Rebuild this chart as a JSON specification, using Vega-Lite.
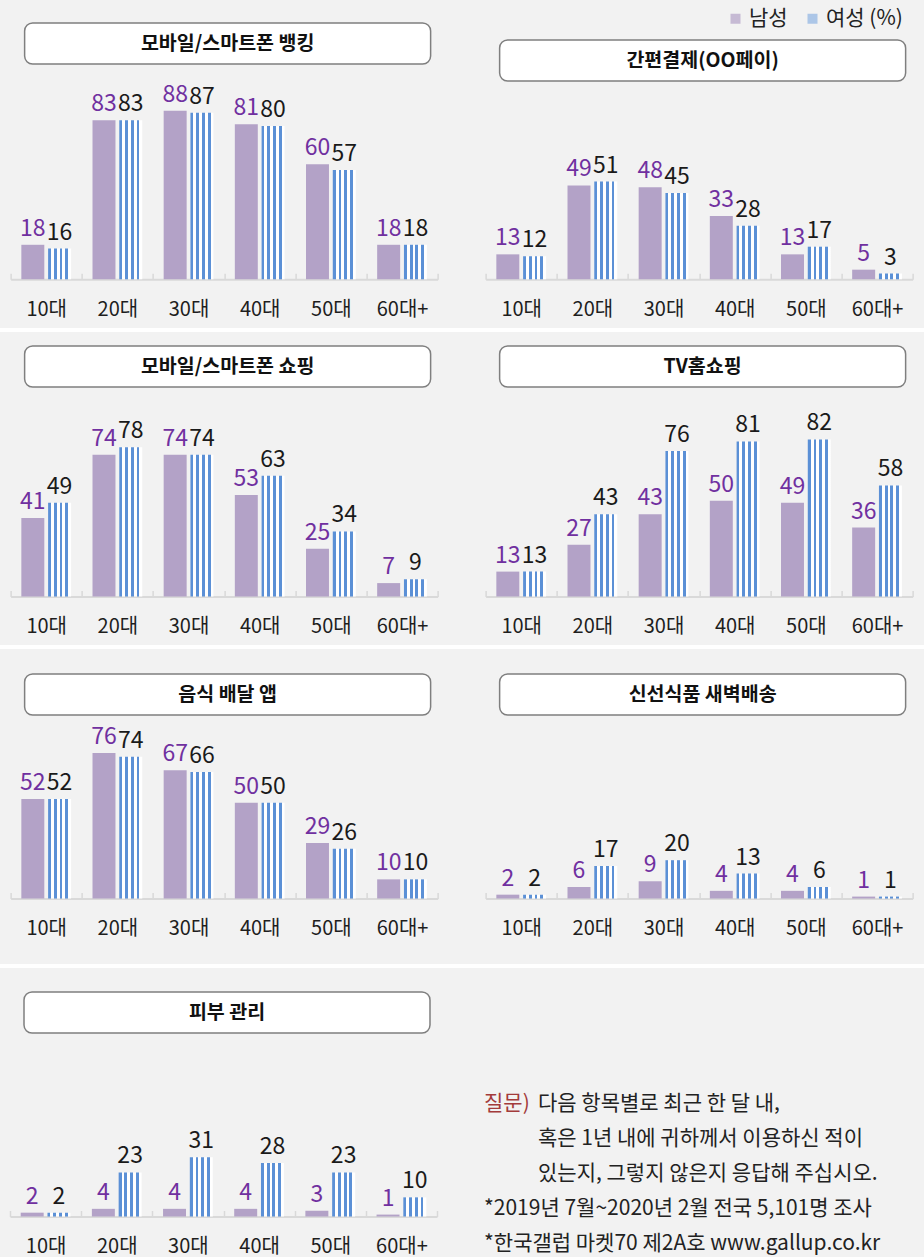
{
  "$schema": "https://vega.github.io/schema/vega-lite/v6.json",
  "background": "#f2f2f2",
  "padding": 0,
  "autosize": {"type": "pad"},
  "spacing": 0,
  "center": true,
  "resolve": {"scale": {"xOffset": "independent"}},
  "config": {
    "view": {"stroke": null},
    "font": "Noto Sans CJK KR",
    "axisX": {"domainColor": "#d9d9d9", "domainWidth": 2, "tickColor": "#d9d9d9", "tickWidth": 1.5, "tickSize": -6, "tickBand": "extent", "labelPadding": 26, "labelFontSize": 20, "labelColor": "#1e1e1e", "labelAngle": 0, "labelFont": "Noto Sans CJK KR", "grid": false}
  },
  "datasets": {
    "survey": [
      {"panel": "모바일/스마트폰 뱅킹", "age": "10대", "sex": "남성", "value": 18},
      {"panel": "모바일/스마트폰 뱅킹", "age": "10대", "sex": "여성", "value": 16},
      {"panel": "모바일/스마트폰 뱅킹", "age": "20대", "sex": "남성", "value": 83},
      {"panel": "모바일/스마트폰 뱅킹", "age": "20대", "sex": "여성", "value": 83},
      {"panel": "모바일/스마트폰 뱅킹", "age": "30대", "sex": "남성", "value": 88},
      {"panel": "모바일/스마트폰 뱅킹", "age": "30대", "sex": "여성", "value": 87},
      {"panel": "모바일/스마트폰 뱅킹", "age": "40대", "sex": "남성", "value": 81},
      {"panel": "모바일/스마트폰 뱅킹", "age": "40대", "sex": "여성", "value": 80},
      {"panel": "모바일/스마트폰 뱅킹", "age": "50대", "sex": "남성", "value": 60},
      {"panel": "모바일/스마트폰 뱅킹", "age": "50대", "sex": "여성", "value": 57},
      {"panel": "모바일/스마트폰 뱅킹", "age": "60대+", "sex": "남성", "value": 18},
      {"panel": "모바일/스마트폰 뱅킹", "age": "60대+", "sex": "여성", "value": 18},
      {"panel": "간편결제(OO페이)", "age": "10대", "sex": "남성", "value": 13},
      {"panel": "간편결제(OO페이)", "age": "10대", "sex": "여성", "value": 12},
      {"panel": "간편결제(OO페이)", "age": "20대", "sex": "남성", "value": 49},
      {"panel": "간편결제(OO페이)", "age": "20대", "sex": "여성", "value": 51},
      {"panel": "간편결제(OO페이)", "age": "30대", "sex": "남성", "value": 48},
      {"panel": "간편결제(OO페이)", "age": "30대", "sex": "여성", "value": 45},
      {"panel": "간편결제(OO페이)", "age": "40대", "sex": "남성", "value": 33},
      {"panel": "간편결제(OO페이)", "age": "40대", "sex": "여성", "value": 28},
      {"panel": "간편결제(OO페이)", "age": "50대", "sex": "남성", "value": 13},
      {"panel": "간편결제(OO페이)", "age": "50대", "sex": "여성", "value": 17},
      {"panel": "간편결제(OO페이)", "age": "60대+", "sex": "남성", "value": 5},
      {"panel": "간편결제(OO페이)", "age": "60대+", "sex": "여성", "value": 3},
      {"panel": "모바일/스마트폰 쇼핑", "age": "10대", "sex": "남성", "value": 41},
      {"panel": "모바일/스마트폰 쇼핑", "age": "10대", "sex": "여성", "value": 49},
      {"panel": "모바일/스마트폰 쇼핑", "age": "20대", "sex": "남성", "value": 74},
      {"panel": "모바일/스마트폰 쇼핑", "age": "20대", "sex": "여성", "value": 78},
      {"panel": "모바일/스마트폰 쇼핑", "age": "30대", "sex": "남성", "value": 74},
      {"panel": "모바일/스마트폰 쇼핑", "age": "30대", "sex": "여성", "value": 74},
      {"panel": "모바일/스마트폰 쇼핑", "age": "40대", "sex": "남성", "value": 53},
      {"panel": "모바일/스마트폰 쇼핑", "age": "40대", "sex": "여성", "value": 63},
      {"panel": "모바일/스마트폰 쇼핑", "age": "50대", "sex": "남성", "value": 25},
      {"panel": "모바일/스마트폰 쇼핑", "age": "50대", "sex": "여성", "value": 34},
      {"panel": "모바일/스마트폰 쇼핑", "age": "60대+", "sex": "남성", "value": 7},
      {"panel": "모바일/스마트폰 쇼핑", "age": "60대+", "sex": "여성", "value": 9},
      {"panel": "TV홈쇼핑", "age": "10대", "sex": "남성", "value": 13},
      {"panel": "TV홈쇼핑", "age": "10대", "sex": "여성", "value": 13},
      {"panel": "TV홈쇼핑", "age": "20대", "sex": "남성", "value": 27},
      {"panel": "TV홈쇼핑", "age": "20대", "sex": "여성", "value": 43},
      {"panel": "TV홈쇼핑", "age": "30대", "sex": "남성", "value": 43},
      {"panel": "TV홈쇼핑", "age": "30대", "sex": "여성", "value": 76},
      {"panel": "TV홈쇼핑", "age": "40대", "sex": "남성", "value": 50},
      {"panel": "TV홈쇼핑", "age": "40대", "sex": "여성", "value": 81},
      {"panel": "TV홈쇼핑", "age": "50대", "sex": "남성", "value": 49},
      {"panel": "TV홈쇼핑", "age": "50대", "sex": "여성", "value": 82},
      {"panel": "TV홈쇼핑", "age": "60대+", "sex": "남성", "value": 36},
      {"panel": "TV홈쇼핑", "age": "60대+", "sex": "여성", "value": 58},
      {"panel": "음식 배달 앱", "age": "10대", "sex": "남성", "value": 52},
      {"panel": "음식 배달 앱", "age": "10대", "sex": "여성", "value": 52},
      {"panel": "음식 배달 앱", "age": "20대", "sex": "남성", "value": 76},
      {"panel": "음식 배달 앱", "age": "20대", "sex": "여성", "value": 74},
      {"panel": "음식 배달 앱", "age": "30대", "sex": "남성", "value": 67},
      {"panel": "음식 배달 앱", "age": "30대", "sex": "여성", "value": 66},
      {"panel": "음식 배달 앱", "age": "40대", "sex": "남성", "value": 50},
      {"panel": "음식 배달 앱", "age": "40대", "sex": "여성", "value": 50},
      {"panel": "음식 배달 앱", "age": "50대", "sex": "남성", "value": 29},
      {"panel": "음식 배달 앱", "age": "50대", "sex": "여성", "value": 26},
      {"panel": "음식 배달 앱", "age": "60대+", "sex": "남성", "value": 10},
      {"panel": "음식 배달 앱", "age": "60대+", "sex": "여성", "value": 10},
      {"panel": "신선식품 새벽배송", "age": "10대", "sex": "남성", "value": 2},
      {"panel": "신선식품 새벽배송", "age": "10대", "sex": "여성", "value": 2},
      {"panel": "신선식품 새벽배송", "age": "20대", "sex": "남성", "value": 6},
      {"panel": "신선식품 새벽배송", "age": "20대", "sex": "여성", "value": 17},
      {"panel": "신선식품 새벽배송", "age": "30대", "sex": "남성", "value": 9},
      {"panel": "신선식품 새벽배송", "age": "30대", "sex": "여성", "value": 20},
      {"panel": "신선식품 새벽배송", "age": "40대", "sex": "남성", "value": 4},
      {"panel": "신선식품 새벽배송", "age": "40대", "sex": "여성", "value": 13},
      {"panel": "신선식품 새벽배송", "age": "50대", "sex": "남성", "value": 4},
      {"panel": "신선식품 새벽배송", "age": "50대", "sex": "여성", "value": 6},
      {"panel": "신선식품 새벽배송", "age": "60대+", "sex": "남성", "value": 1},
      {"panel": "신선식품 새벽배송", "age": "60대+", "sex": "여성", "value": 1},
      {"panel": "피부 관리", "age": "10대", "sex": "남성", "value": 2},
      {"panel": "피부 관리", "age": "10대", "sex": "여성", "value": 2},
      {"panel": "피부 관리", "age": "20대", "sex": "남성", "value": 4},
      {"panel": "피부 관리", "age": "20대", "sex": "여성", "value": 23},
      {"panel": "피부 관리", "age": "30대", "sex": "남성", "value": 4},
      {"panel": "피부 관리", "age": "30대", "sex": "여성", "value": 31},
      {"panel": "피부 관리", "age": "40대", "sex": "남성", "value": 4},
      {"panel": "피부 관리", "age": "40대", "sex": "여성", "value": 28},
      {"panel": "피부 관리", "age": "50대", "sex": "남성", "value": 3},
      {"panel": "피부 관리", "age": "50대", "sex": "여성", "value": 23},
      {"panel": "피부 관리", "age": "60대+", "sex": "남성", "value": 1},
      {"panel": "피부 관리", "age": "60대+", "sex": "여성", "value": 10}
    ]
  },
  "vconcat": [
    {
      "hconcat": [
        {
          "vconcat": [
            {"width": 427, "height": 21.25, "data": {"values": []}, "mark": "text"},
            {"hconcat": [
              {"width": 13, "height": 41, "data": {"values": []}, "mark": "text"},
              {"width": 406, "height": 41, "view": {"fill": "#ffffff", "stroke": "#7f7f7f", "strokeWidth": 1.5, "cornerRadius": 8}, "data": {"values": [{"title": "모바일/스마트폰 뱅킹"}]}, "mark": {"type": "text", "fontSize": 19.5, "fontWeight": "bold", "color": "#111111"}, "encoding": {"text": {"field": "title"}}}
            ], "spacing": 0},
            {
              "width": 427, "height": 214.25,
              "data": {"name": "survey"},
              "transform": [{"filter": "datum.panel === '모바일/스마트폰 뱅킹'"}],
              "encoding": {
                "x": {"field": "age", "type": "nominal", "scale": {"domain": ["10대","20대","30대","40대","50대","60대+"], "paddingInner": 0, "paddingOuter": 0}, "axis": {"title": null}},
                "xOffset": {"field": "sex", "type": "nominal", "scale": {"domain": ["남성","여성"], "paddingInner": 0.142, "paddingOuter": 0.4}},
                "y": {"field": "value", "type": "quantitative", "scale": {"domain": [0, 111.88], "nice": false, "zero": true}, "axis": null}
              },
              "layer": [
                {"mark": {"type": "bar"}, "encoding": {"fill": {"condition": {"test": "datum.sex === '남성'", "value": "#b3a2c7"}, "value": {"gradient": "linear", "x1": 0, "y1": 0, "x2": 1, "y2": 0, "stops": [{"offset": 0, "color": "#5b90d6"}, {"offset": 0.125, "color": "#5b90d6"}, {"offset": 0.125, "color": "#ffffff"}, {"offset": 0.25, "color": "#ffffff"}, {"offset": 0.25, "color": "#5b90d6"}, {"offset": 0.375, "color": "#5b90d6"}, {"offset": 0.375, "color": "#ffffff"}, {"offset": 0.5, "color": "#ffffff"}, {"offset": 0.5, "color": "#5b90d6"}, {"offset": 0.625, "color": "#5b90d6"}, {"offset": 0.625, "color": "#ffffff"}, {"offset": 0.75, "color": "#ffffff"}, {"offset": 0.75, "color": "#5b90d6"}, {"offset": 0.875, "color": "#5b90d6"}, {"offset": 0.875, "color": "#ffffff"}, {"offset": 1, "color": "#ffffff"}]}}}},
                {"mark": {"type": "text", "dy": -9, "fontSize": 23, "baseline": "alphabetic"}, "encoding": {"text": {"field": "value", "type": "quantitative"}, "color": {"condition": {"test": "datum.sex === '남성'", "value": "#7030a0"}, "value": "#1a1a1a"}}}
              ]
            }
          ],
          "spacing": 0, "resolve": {"scale": {"xOffset": "independent"}}
        },
        {
          "vconcat": [
            {"width": 427, "height": 38.25, "data": {"values": []}, "mark": "square", "encoding": {"fill": {"field": "sex", "type": "nominal", "scale": {"domain": ["남성","여성 (%)"], "range": ["#b3a2c7","#8fb4e3"]}, "legend": {"orient": "none", "legendX": 725, "legendY": 8, "direction": "horizontal", "title": null, "symbolType": "square", "symbolSize": 100, "symbolStrokeWidth": 0, "labelFontSize": 21, "labelColor": "#222222", "labelOffset": 3, "columnPadding": 14, "labelFont": "Noto Sans CJK KR"}}}},
            {"hconcat": [
              {"width": 13, "height": 41, "data": {"values": []}, "mark": "text"},
              {"width": 406, "height": 41, "view": {"fill": "#ffffff", "stroke": "#7f7f7f", "strokeWidth": 1.5, "cornerRadius": 8}, "data": {"values": [{"title": "간편결제(OO페이)"}]}, "mark": {"type": "text", "fontSize": 19.5, "fontWeight": "bold", "color": "#111111"}, "encoding": {"text": {"field": "title"}}}
            ], "spacing": 0},
            {
              "width": 427, "height": 197.25,
              "data": {"name": "survey"},
              "transform": [{"filter": "datum.panel === '간편결제(OO페이)'"}],
              "encoding": {
                "x": {"field": "age", "type": "nominal", "scale": {"domain": ["10대","20대","30대","40대","50대","60대+"], "paddingInner": 0, "paddingOuter": 0}, "axis": {"title": null}},
                "xOffset": {"field": "sex", "type": "nominal", "scale": {"domain": ["남성","여성"], "paddingInner": 0.142, "paddingOuter": 0.4}},
                "y": {"field": "value", "type": "quantitative", "scale": {"domain": [0, 103.0], "nice": false, "zero": true}, "axis": null}
              },
              "layer": [
                {"mark": {"type": "bar"}, "encoding": {"fill": {"condition": {"test": "datum.sex === '남성'", "value": "#b3a2c7"}, "value": {"gradient": "linear", "x1": 0, "y1": 0, "x2": 1, "y2": 0, "stops": [{"offset": 0, "color": "#5b90d6"}, {"offset": 0.125, "color": "#5b90d6"}, {"offset": 0.125, "color": "#ffffff"}, {"offset": 0.25, "color": "#ffffff"}, {"offset": 0.25, "color": "#5b90d6"}, {"offset": 0.375, "color": "#5b90d6"}, {"offset": 0.375, "color": "#ffffff"}, {"offset": 0.5, "color": "#ffffff"}, {"offset": 0.5, "color": "#5b90d6"}, {"offset": 0.625, "color": "#5b90d6"}, {"offset": 0.625, "color": "#ffffff"}, {"offset": 0.75, "color": "#ffffff"}, {"offset": 0.75, "color": "#5b90d6"}, {"offset": 0.875, "color": "#5b90d6"}, {"offset": 0.875, "color": "#ffffff"}, {"offset": 1, "color": "#ffffff"}]}}}},
                {"mark": {"type": "text", "dy": -9, "fontSize": 23, "baseline": "alphabetic"}, "encoding": {"text": {"field": "value", "type": "quantitative"}, "color": {"condition": {"test": "datum.sex === '남성'", "value": "#7030a0"}, "value": "#1a1a1a"}}}
              ]
            }
          ],
          "spacing": 0, "resolve": {"scale": {"xOffset": "independent"}}
        }
      ],
      "spacing": 46, "resolve": {"scale": {"xOffset": "independent"}}
    },
    {"width": 427, "height": 8, "data": {"values": []}, "mark": "text"},
    {"width": 924, "height": 4, "view": {"fill": "#ffffff", "stroke": null}, "data": {"values": []}, "mark": "text"},
    {"width": 427, "height": 13, "data": {"values": []}, "mark": "text"},
    {
      "hconcat": [
        {
          "vconcat": [
            {"hconcat": [
              {"width": 13, "height": 41, "data": {"values": []}, "mark": "text"},
              {"width": 406, "height": 41, "view": {"fill": "#ffffff", "stroke": "#7f7f7f", "strokeWidth": 1.5, "cornerRadius": 8}, "data": {"values": [{"title": "모바일/스마트폰 쇼핑"}]}, "mark": {"type": "text", "fontSize": 19.5, "fontWeight": "bold", "color": "#111111"}, "encoding": {"text": {"field": "title"}}}
            ], "spacing": 0},
            {
              "width": 427, "height": 208.5,
              "data": {"name": "survey"},
              "transform": [{"filter": "datum.panel === '모바일/스마트폰 쇼핑'"}],
              "encoding": {
                "x": {"field": "age", "type": "nominal", "scale": {"domain": ["10대","20대","30대","40대","50대","60대+"], "paddingInner": 0, "paddingOuter": 0}, "axis": {"title": null}},
                "xOffset": {"field": "sex", "type": "nominal", "scale": {"domain": ["남성","여성"], "paddingInner": 0.142, "paddingOuter": 0.4}},
                "y": {"field": "value", "type": "quantitative", "scale": {"domain": [0, 108.88], "nice": false, "zero": true}, "axis": null}
              },
              "layer": [
                {"mark": {"type": "bar"}, "encoding": {"fill": {"condition": {"test": "datum.sex === '남성'", "value": "#b3a2c7"}, "value": {"gradient": "linear", "x1": 0, "y1": 0, "x2": 1, "y2": 0, "stops": [{"offset": 0, "color": "#5b90d6"}, {"offset": 0.125, "color": "#5b90d6"}, {"offset": 0.125, "color": "#ffffff"}, {"offset": 0.25, "color": "#ffffff"}, {"offset": 0.25, "color": "#5b90d6"}, {"offset": 0.375, "color": "#5b90d6"}, {"offset": 0.375, "color": "#ffffff"}, {"offset": 0.5, "color": "#ffffff"}, {"offset": 0.5, "color": "#5b90d6"}, {"offset": 0.625, "color": "#5b90d6"}, {"offset": 0.625, "color": "#ffffff"}, {"offset": 0.75, "color": "#ffffff"}, {"offset": 0.75, "color": "#5b90d6"}, {"offset": 0.875, "color": "#5b90d6"}, {"offset": 0.875, "color": "#ffffff"}, {"offset": 1, "color": "#ffffff"}]}}}},
                {"mark": {"type": "text", "dy": -9, "fontSize": 23, "baseline": "alphabetic"}, "encoding": {"text": {"field": "value", "type": "quantitative"}, "color": {"condition": {"test": "datum.sex === '남성'", "value": "#7030a0"}, "value": "#1a1a1a"}}}
              ]
            }
          ],
          "spacing": 0, "resolve": {"scale": {"xOffset": "independent"}}
        },
        {
          "vconcat": [
            {"hconcat": [
              {"width": 13, "height": 41, "data": {"values": []}, "mark": "text"},
              {"width": 406, "height": 41, "view": {"fill": "#ffffff", "stroke": "#7f7f7f", "strokeWidth": 1.5, "cornerRadius": 8}, "data": {"values": [{"title": "TV홈쇼핑"}]}, "mark": {"type": "text", "fontSize": 19.5, "fontWeight": "bold", "color": "#111111"}, "encoding": {"text": {"field": "title"}}}
            ], "spacing": 0},
            {
              "width": 427, "height": 208.5,
              "data": {"name": "survey"},
              "transform": [{"filter": "datum.panel === 'TV홈쇼핑'"}],
              "encoding": {
                "x": {"field": "age", "type": "nominal", "scale": {"domain": ["10대","20대","30대","40대","50대","60대+"], "paddingInner": 0, "paddingOuter": 0}, "axis": {"title": null}},
                "xOffset": {"field": "sex", "type": "nominal", "scale": {"domain": ["남성","여성"], "paddingInner": 0.142, "paddingOuter": 0.4}},
                "y": {"field": "value", "type": "quantitative", "scale": {"domain": [0, 108.88], "nice": false, "zero": true}, "axis": null}
              },
              "layer": [
                {"mark": {"type": "bar"}, "encoding": {"fill": {"condition": {"test": "datum.sex === '남성'", "value": "#b3a2c7"}, "value": {"gradient": "linear", "x1": 0, "y1": 0, "x2": 1, "y2": 0, "stops": [{"offset": 0, "color": "#5b90d6"}, {"offset": 0.125, "color": "#5b90d6"}, {"offset": 0.125, "color": "#ffffff"}, {"offset": 0.25, "color": "#ffffff"}, {"offset": 0.25, "color": "#5b90d6"}, {"offset": 0.375, "color": "#5b90d6"}, {"offset": 0.375, "color": "#ffffff"}, {"offset": 0.5, "color": "#ffffff"}, {"offset": 0.5, "color": "#5b90d6"}, {"offset": 0.625, "color": "#5b90d6"}, {"offset": 0.625, "color": "#ffffff"}, {"offset": 0.75, "color": "#ffffff"}, {"offset": 0.75, "color": "#5b90d6"}, {"offset": 0.875, "color": "#5b90d6"}, {"offset": 0.875, "color": "#ffffff"}, {"offset": 1, "color": "#ffffff"}]}}}},
                {"mark": {"type": "text", "dy": -9, "fontSize": 23, "baseline": "alphabetic"}, "encoding": {"text": {"field": "value", "type": "quantitative"}, "color": {"condition": {"test": "datum.sex === '남성'", "value": "#7030a0"}, "value": "#1a1a1a"}}}
              ]
            }
          ],
          "spacing": 0, "resolve": {"scale": {"xOffset": "independent"}}
        }
      ],
      "spacing": 46, "resolve": {"scale": {"xOffset": "independent"}}
    },
    {"width": 427, "height": 8, "data": {"values": []}, "mark": "text"},
    {"width": 924, "height": 4, "view": {"fill": "#ffffff", "stroke": null}, "data": {"values": []}, "mark": "text"},
    {"width": 427, "height": 24, "data": {"values": []}, "mark": "text"},
    {
      "hconcat": [
        {
          "vconcat": [
            {"hconcat": [
              {"width": 13, "height": 41, "data": {"values": []}, "mark": "text"},
              {"width": 406, "height": 41, "view": {"fill": "#ffffff", "stroke": "#7f7f7f", "strokeWidth": 1.5, "cornerRadius": 8}, "data": {"values": [{"title": "음식 배달 앱"}]}, "mark": {"type": "text", "fontSize": 19.5, "fontWeight": "bold", "color": "#111111"}, "encoding": {"text": {"field": "title"}}}
            ], "spacing": 0},
            {
              "width": 427, "height": 182.5,
              "data": {"name": "survey"},
              "transform": [{"filter": "datum.panel === '음식 배달 앱'"}],
              "encoding": {
                "x": {"field": "age", "type": "nominal", "scale": {"domain": ["10대","20대","30대","40대","50대","60대+"], "paddingInner": 0, "paddingOuter": 0}, "axis": {"title": null}},
                "xOffset": {"field": "sex", "type": "nominal", "scale": {"domain": ["남성","여성"], "paddingInner": 0.142, "paddingOuter": 0.4}},
                "y": {"field": "value", "type": "quantitative", "scale": {"domain": [0, 95.3], "nice": false, "zero": true}, "axis": null}
              },
              "layer": [
                {"mark": {"type": "bar"}, "encoding": {"fill": {"condition": {"test": "datum.sex === '남성'", "value": "#b3a2c7"}, "value": {"gradient": "linear", "x1": 0, "y1": 0, "x2": 1, "y2": 0, "stops": [{"offset": 0, "color": "#5b90d6"}, {"offset": 0.125, "color": "#5b90d6"}, {"offset": 0.125, "color": "#ffffff"}, {"offset": 0.25, "color": "#ffffff"}, {"offset": 0.25, "color": "#5b90d6"}, {"offset": 0.375, "color": "#5b90d6"}, {"offset": 0.375, "color": "#ffffff"}, {"offset": 0.5, "color": "#ffffff"}, {"offset": 0.5, "color": "#5b90d6"}, {"offset": 0.625, "color": "#5b90d6"}, {"offset": 0.625, "color": "#ffffff"}, {"offset": 0.75, "color": "#ffffff"}, {"offset": 0.75, "color": "#5b90d6"}, {"offset": 0.875, "color": "#5b90d6"}, {"offset": 0.875, "color": "#ffffff"}, {"offset": 1, "color": "#ffffff"}]}}}},
                {"mark": {"type": "text", "dy": -9, "fontSize": 23, "baseline": "alphabetic"}, "encoding": {"text": {"field": "value", "type": "quantitative"}, "color": {"condition": {"test": "datum.sex === '남성'", "value": "#7030a0"}, "value": "#1a1a1a"}}}
              ]
            }
          ],
          "spacing": 0, "resolve": {"scale": {"xOffset": "independent"}}
        },
        {
          "vconcat": [
            {"hconcat": [
              {"width": 13, "height": 41, "data": {"values": []}, "mark": "text"},
              {"width": 406, "height": 41, "view": {"fill": "#ffffff", "stroke": "#7f7f7f", "strokeWidth": 1.5, "cornerRadius": 8}, "data": {"values": [{"title": "신선식품 새벽배송"}]}, "mark": {"type": "text", "fontSize": 19.5, "fontWeight": "bold", "color": "#111111"}, "encoding": {"text": {"field": "title"}}}
            ], "spacing": 0},
            {
              "width": 427, "height": 182.5,
              "data": {"name": "survey"},
              "transform": [{"filter": "datum.panel === '신선식품 새벽배송'"}],
              "encoding": {
                "x": {"field": "age", "type": "nominal", "scale": {"domain": ["10대","20대","30대","40대","50대","60대+"], "paddingInner": 0, "paddingOuter": 0}, "axis": {"title": null}},
                "xOffset": {"field": "sex", "type": "nominal", "scale": {"domain": ["남성","여성"], "paddingInner": 0.142, "paddingOuter": 0.4}},
                "y": {"field": "value", "type": "quantitative", "scale": {"domain": [0, 95.3], "nice": false, "zero": true}, "axis": null}
              },
              "layer": [
                {"mark": {"type": "bar"}, "encoding": {"fill": {"condition": {"test": "datum.sex === '남성'", "value": "#b3a2c7"}, "value": {"gradient": "linear", "x1": 0, "y1": 0, "x2": 1, "y2": 0, "stops": [{"offset": 0, "color": "#5b90d6"}, {"offset": 0.125, "color": "#5b90d6"}, {"offset": 0.125, "color": "#ffffff"}, {"offset": 0.25, "color": "#ffffff"}, {"offset": 0.25, "color": "#5b90d6"}, {"offset": 0.375, "color": "#5b90d6"}, {"offset": 0.375, "color": "#ffffff"}, {"offset": 0.5, "color": "#ffffff"}, {"offset": 0.5, "color": "#5b90d6"}, {"offset": 0.625, "color": "#5b90d6"}, {"offset": 0.625, "color": "#ffffff"}, {"offset": 0.75, "color": "#ffffff"}, {"offset": 0.75, "color": "#5b90d6"}, {"offset": 0.875, "color": "#5b90d6"}, {"offset": 0.875, "color": "#ffffff"}, {"offset": 1, "color": "#ffffff"}]}}}},
                {"mark": {"type": "text", "dy": -9, "fontSize": 23, "baseline": "alphabetic"}, "encoding": {"text": {"field": "value", "type": "quantitative"}, "color": {"condition": {"test": "datum.sex === '남성'", "value": "#7030a0"}, "value": "#1a1a1a"}}}
              ]
            }
          ],
          "spacing": 0, "resolve": {"scale": {"xOffset": "independent"}}
        }
      ],
      "spacing": 46, "resolve": {"scale": {"xOffset": "independent"}}
    },
    {"width": 427, "height": 25, "data": {"values": []}, "mark": "text"},
    {"width": 924, "height": 4, "view": {"fill": "#ffffff", "stroke": null}, "data": {"values": []}, "mark": "text"},
    {"width": 427, "height": 23, "data": {"values": []}, "mark": "text"},
    {
      "hconcat": [
        {
          "vconcat": [
            {"hconcat": [
              {"width": 13, "height": 41, "data": {"values": []}, "mark": "text"},
              {"width": 406, "height": 41, "view": {"fill": "#ffffff", "stroke": "#7f7f7f", "strokeWidth": 1.5, "cornerRadius": 8}, "data": {"values": [{"title": "피부 관리"}]}, "mark": {"type": "text", "fontSize": 19.5, "fontWeight": "bold", "color": "#111111"}, "encoding": {"text": {"field": "title"}}}
            ], "spacing": 0},
            {
              "width": 427, "height": 182.5,
              "data": {"name": "survey"},
              "transform": [{"filter": "datum.panel === '피부 관리'"}],
              "encoding": {
                "x": {"field": "age", "type": "nominal", "scale": {"domain": ["10대","20대","30대","40대","50대","60대+"], "paddingInner": 0, "paddingOuter": 0}, "axis": {"title": null}},
                "xOffset": {"field": "sex", "type": "nominal", "scale": {"domain": ["남성","여성"], "paddingInner": 0.142, "paddingOuter": 0.4}},
                "y": {"field": "value", "type": "quantitative", "scale": {"domain": [0, 95.3], "nice": false, "zero": true}, "axis": null}
              },
              "layer": [
                {"mark": {"type": "bar"}, "encoding": {"fill": {"condition": {"test": "datum.sex === '남성'", "value": "#b3a2c7"}, "value": {"gradient": "linear", "x1": 0, "y1": 0, "x2": 1, "y2": 0, "stops": [{"offset": 0, "color": "#5b90d6"}, {"offset": 0.125, "color": "#5b90d6"}, {"offset": 0.125, "color": "#ffffff"}, {"offset": 0.25, "color": "#ffffff"}, {"offset": 0.25, "color": "#5b90d6"}, {"offset": 0.375, "color": "#5b90d6"}, {"offset": 0.375, "color": "#ffffff"}, {"offset": 0.5, "color": "#ffffff"}, {"offset": 0.5, "color": "#5b90d6"}, {"offset": 0.625, "color": "#5b90d6"}, {"offset": 0.625, "color": "#ffffff"}, {"offset": 0.75, "color": "#ffffff"}, {"offset": 0.75, "color": "#5b90d6"}, {"offset": 0.875, "color": "#5b90d6"}, {"offset": 0.875, "color": "#ffffff"}, {"offset": 1, "color": "#ffffff"}]}}}},
                {"mark": {"type": "text", "dy": -9, "fontSize": 23, "baseline": "alphabetic"}, "encoding": {"text": {"field": "value", "type": "quantitative"}, "color": {"condition": {"test": "datum.sex === '남성'", "value": "#7030a0"}, "value": "#1a1a1a"}}}
              ]
            }
          ],
          "spacing": 0, "resolve": {"scale": {"xOffset": "independent"}}
        },
        {
          "width": 427, "height": 260,
          "data": {"values": [
            {"line": 1, "col": "a", "role": "label", "text": "질문)"},
            {"line": 1, "col": "b", "role": "body", "text": "다음 항목별로 최근 한 달 내,"},
            {"line": 2, "col": "b", "role": "body", "text": "혹은 1년 내에 귀하께서 이용하신 적이"},
            {"line": 3, "col": "b", "role": "body", "text": "있는지, 그렇지 않은지 응답해 주십시오."},
            {"line": 4, "col": "a", "role": "note", "text": "*2019년 7월~2020년 2월 전국 5,101명 조사"},
            {"line": 5, "col": "a", "role": "note", "text": "*한국갤럽 마켓70 제2A호 www.gallup.co.kr"}
          ]},
          "encoding": {
            "x": {"field": "col", "type": "nominal", "scale": {"type": "point", "domain": ["a","b"], "range": [-3, 51], "padding": 0}, "axis": null},
            "y": {"field": "line", "type": "ordinal", "scale": {"type": "point", "domain": [1,2,3,4,5], "range": [112, 252], "padding": 0}, "axis": null},
            "text": {"field": "text"}
          },
          "layer": [
            {"transform": [{"filter": "datum.role === 'label'"}], "mark": {"type": "text", "align": "left", "baseline": "middle", "fontSize": 21, "color": "#a33b3b"}},
            {"transform": [{"filter": "datum.role !== 'label'"}], "mark": {"type": "text", "align": "left", "baseline": "middle", "fontSize": 21, "color": "#222222"}}
          ]
        }
      ],
      "spacing": 46, "resolve": {"scale": {"xOffset": "independent"}}
    },
    {"width": 427, "height": 2, "data": {"values": []}, "mark": "text"}
  ]
}
